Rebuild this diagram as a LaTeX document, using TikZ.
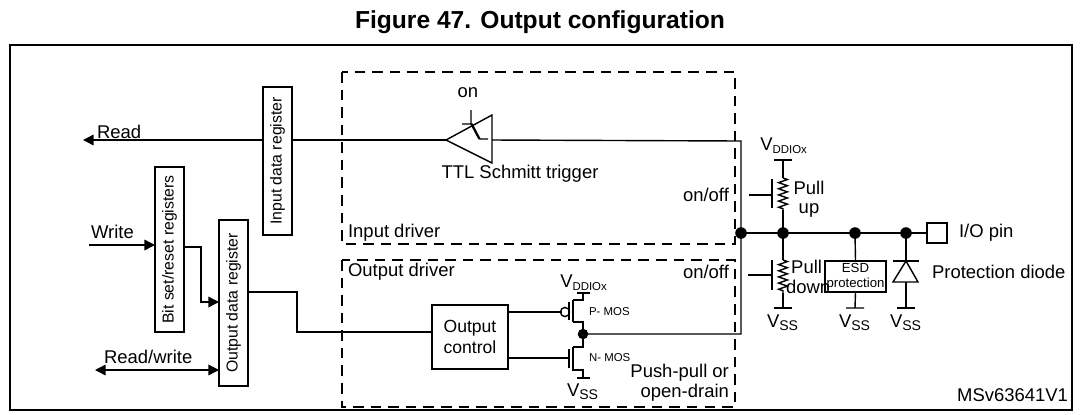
\documentclass[tikz,border=0pt]{standalone}
\usepackage{fontspec}
\setmainfont{Liberation Sans}
\usetikzlibrary{arrows.meta,decorations.pathmorphing}
\tikzset{
    reg/.style={draw, thick, fill=white, minimum height=0.58cm, inner sep=0pt, rotate=90, font=\fontsize{9}{9}\selectfont},
    box/.style={draw, thick, align=center, inner sep=0pt, font=\fontsize{10}{12}\selectfont},
    lbl/.style={inner sep=1pt, font=\fontsize{10.5}{11.5}\selectfont},
    small/.style={inner sep=1pt, font=\fontsize{6.5}{7}\selectfont},
    drv/.style={dashed, thick, dash pattern=on 6pt off 4pt},
    wire/.style={thick},
    sig/.style={thick, -{Triangle[length=6pt,width=6pt]}},
    res/.style={thick, decorate, decoration={zigzag, amplitude=2.5pt, segment length=3.5pt}}
}
\newcommand{\vddlbl}{V\textsubscript{\fontsize{6.5}{6}\selectfont DDIOx}}
\newcommand{\vsslbl}{V\textsubscript{\fontsize{8}{7}\selectfont SS}}
\begin{document}
\begin{tikzpicture}[x=0.02cm, y=-0.02cm]
\useasboundingbox (0,0) rectangle (1080,414);
\node[font=\bfseries\fontsize{14}{15}\selectfont] (title) at (540,22) {Figure 47. Output configuration};
\draw[thick] (10,45) rectangle (1072,410);
\node[lbl, anchor=south east] (mark) at (1070,404) {MSv63641V1};
% driver frames
\draw[drv] (342,72) rectangle (735,244);
\draw[drv] (342,260) rectangle (735,407);
\node[lbl, anchor=west] (indrv) at (346,233) {Input driver};
\node[lbl, anchor=west] (outdrv) at (346,272) {Output driver};
% Read path
\coordinate (readend) at (83,140);
\coordinate (stin) at (492,140);
\draw[sig] (446,140) -- (readend);
\node[lbl, anchor=south west] (read) at (95,141) {Read};
\draw[thick] (446,140) -- (492,115) -- (492,163) -- cycle;
\draw[thick] (471,110) -- (471,124) (462,124) -- (472,124) -- (480,139) -- (488,139) (471,124) -- (479,139);
\node[lbl] (on) at (468,93) {on};
\node[lbl] (ttl) at (520,174) {TTL Schmitt trigger};
% registers
\node[reg, minimum width=2.96cm] (idr) at (277.5,161) {Input data register};
\node[reg, minimum width=3.3cm] (bsr) at (169.5,249.5) {Bit set/reset registers};
\node[reg, minimum width=3.32cm] (odr) at (233.5,303) {Output data register};
\node[box, minimum width=76*0.02cm, minimum height=64*0.02cm] (oc) at (470,337) {Output\\control};
% write paths
\coordinate (wr) at (89,245);
\draw[sig] (wr) -- (155,245);
\node[lbl, anchor=south west] (write) at (89,241) {Write};
\draw[sig] (184,247) -- (201,247) -- (201,302) -- (219,302);
\draw[thick, {Triangle[length=6pt,width=6pt]}-{Triangle[length=6pt,width=6pt]}] (95,370) -- (219,370);
\node[lbl, anchor=south west] (rw) at (102,366) {Read/write};
\draw[wire] (248,292) -- (297,292) -- (297,332) -- (432,332);
% pad node
\coordinate (pad) at (741,233);
\coordinate (pu) at (783,233);
\coordinate (esd) at (855,233);
\coordinate (dio) at (906,233);
\draw[wire] (stin) -- (741,141) -- (pad) -- (741,334) -- (583,334);
\draw[wire] (pad) -- (927,233);
\node[draw, thick, minimum width=20*0.02cm, minimum height=20*0.02cm, inner sep=0pt] (pin) at (937,233) {};
\node[lbl, anchor=west] (piol) at (957,233) {I/O pin};
\foreach \p in {pad,pu,esd,dio} \fill (\p) circle [radius=3.3pt];
\fill (583,334) circle [radius=3pt];
% pull up
\draw[wire] (774,160) -- (792,160);
\draw[wire] (783,160) -- (783,178);
\draw[res] (783,178) -- (783,210);
\draw[wire] (783,210) -- (pu);
\draw[wire] (772,179) -- (772,208) (749,195) -- (772,195);
\node[lbl] (vddpu) at (784,146) {\vddlbl};
\node[lbl, anchor=east] (onoff1) at (731,195) {on/off};
\node[lbl, align=center] (pul) at (809,199) {Pull\\[-1pt]up};
% pull down
\draw[wire] (pu) -- (783,260);
\draw[res] (783,260) -- (783,293);
\draw[wire] (783,293) -- (783,308) (774,308) -- (792,308);
\draw[wire] (772,260) -- (772,290) (748,275) -- (772,275);
\node[lbl] (vsspd) at (783,323) {\vsslbl};
\node[lbl, anchor=east] (onoff2) at (731,272) {on/off};
\node[lbl, align=left, anchor=west] (pdl) at (784,277) {\ Pull\\down};
% ESD
\node[box, minimum width=61*0.02cm, minimum height=31*0.02cm, font=\fontsize{7.5}{8.5}\selectfont] (esdb) at (855.5,276.5) {ESD\\protection};
\draw[wire] (esd) -- (esdb.north) (esdb.south) -- (855,308) (846,308) -- (864,308);
\node[lbl] (vssesd) at (855,323) {\vsslbl};
% diode
\draw[wire] (dio) -- (906,308) (897,308) -- (915,308);
\draw[thick, fill=white] (906,261) -- (893,282) -- (918,282) -- cycle;
\draw[wire] (893,261) -- (919,261);
\node[lbl] (vssd) at (906,323) {\vsslbl};
\node[lbl, anchor=west] (pdiode) at (930,272) {Protection diode};
% push-pull
\draw[wire] (oc.east |- 0,312) -- (562,312);
\draw[thick] (565,312) circle [radius=2.6pt];
\draw[wire] (569,302) -- (569,320) (573,300) -- (573,322);
\draw[wire] (577,293) -- (590,293) (583,293) -- (583,300) -- (573,300) (573,322) -- (583,322) -- (583,347) -- (573,347);
\draw[wire] (oc.east |- 0,358) -- (569,358) (569,349) -- (569,368) (573,347) -- (573,370) -- (583,370) -- (583,378) (577,378) -- (590,378);
\node[lbl] (vddp) at (584,283) {\vddlbl};
\node[small, anchor=west] (pmos) at (587,312) {P- MOS};
\node[small, anchor=west] (nmos) at (587,358) {N- MOS};
\node[lbl] (vssn) at (583,392) {\vsslbl};
\node[lbl, align=right, anchor=east] (pp) at (731,383) {Push-pull or\\open-drain};
\end{tikzpicture}
\end{document}
